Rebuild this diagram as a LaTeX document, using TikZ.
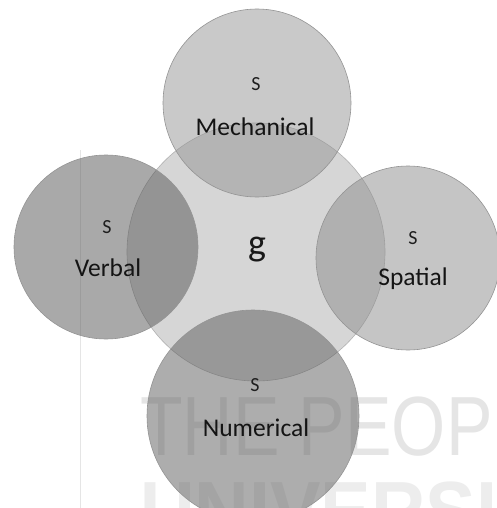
\documentclass[tikz,border=0pt]{standalone}
\usepackage{fontspec}
\setmainfont{Carlito}
\newfontfamily\markfont{Liberation Sans}
\begin{document}
\begin{tikzpicture}[x=1pt,y=-1pt,
  bubble/.style={circle,draw=black!42,line width=0.6pt,fill opacity=0.5,text opacity=1,inner sep=0pt},
  core/.style={circle,draw=black!30,line width=0.6pt,fill=black!16,inner sep=0pt},
  lbl/.style={font=\fontsize{25.5}{28}\selectfont,text=black!92,align=center},
  sub/.style={font=\fontsize{20}{22}\selectfont,text=black!88},
  wmtext/.style={text=black!10,anchor=base west,inner sep=0pt}]
\useasboundingbox (0,0) rectangle (497,508);
\fill[white] (0,0) rectangle (497,508);
\clip (0,0) rectangle (497,508);

% faint university watermark behind the diagram
\draw[black!10,line width=1pt] (80,150) -- (80,508);
\node[wmtext,font=\markfont\fontsize{84}{90}\selectfont,xscale=0.83] (wm1) at (140,455) {THE PEOPLE'S};
\node[wmtext,text=black!7,font=\markfont\bfseries\fontsize{84}{90}\selectfont,xscale=0.9] (wm2) at (140,540) {UNIVERSITY};

% general factor
\node[core,minimum size=258pt] (g) at (256,252) {};
\node[font=\fontsize{38}{40}\selectfont,text=black!90] (gl) at (257,250) {g};

% specific factors
\node[bubble,fill=black!42,minimum size=188pt] (mech) at (257,103) {};
\node[bubble,fill=black!67,minimum size=184pt] (verb) at (106,247) {};
\node[bubble,fill=black!45,minimum size=184pt] (spat) at (408,258) {};
\node[bubble,fill=black!64,minimum size=212pt] (num) at (253,416) {};

\node[sub] (ms) at (256,84) {S};
\node[lbl] (ml) at (255,127) {Mechanical};
\node[sub] (vs) at (107,227) {S};
\node[lbl] (vl) at (108,268) {Verbal};
\node[sub] (ss) at (413,238) {S};
\node[lbl] (sl) at (413,279) {Spatial};
\node[sub] (ns) at (255,385) {S};
\node[lbl] (nl) at (256,428) {Numerical};
\end{tikzpicture}
\end{document}
